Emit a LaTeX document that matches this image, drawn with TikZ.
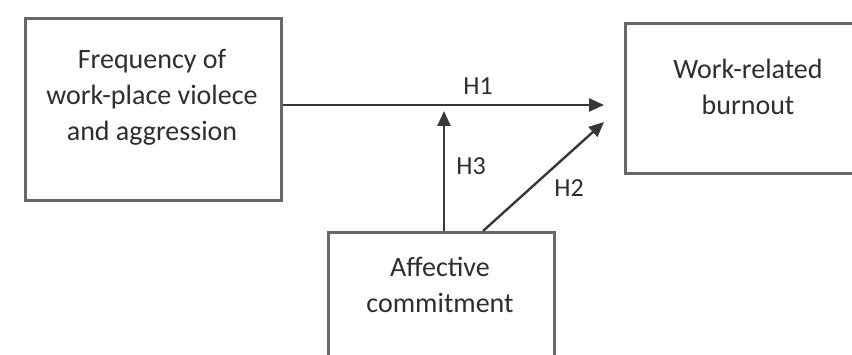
\documentclass[tikz,border=0pt]{standalone}
\usepackage{fontspec}
\setmainfont{Carlito}
\usetikzlibrary{arrows.meta}
\definecolor{boxline}{HTML}{686868}
\definecolor{arrline}{HTML}{383838}
\definecolor{txt}{HTML}{2E2E2E}
\begin{document}
\begin{tikzpicture}[x=1pt,y=-1pt,
  boxshape/.style={draw=boxline,line width=2.6pt,inner sep=0pt,anchor=north west},
  boxtext/.style={text=txt,font=\fontsize{28}{36}\selectfont,align=center,inner sep=0pt},
  hyp/.style={text=txt,font=\fontsize{26}{30}\selectfont,inner sep=0pt},
  conn/.style={draw=arrline,line width=2.4pt,-{Triangle[length=15pt,width=13pt]}}]
\useasboundingbox (0,0) rectangle (852,355);
\clip (0,0) rectangle (852,355);
\fill[white] (0,0) rectangle (852,355);
% boxes
\node[boxshape,minimum width=256pt,minimum height=182pt] (freq) at (24,17) {};
\node[boxtext] (freqt) at (152,97) {Frequency of\\work-place violece\\and aggression};
\node[boxshape,minimum width=248pt,minimum height=150pt] (burn) at (624,22) {};
\node[boxtext] (burnt) at (748,87) {Work-related\\burnout};
\node[boxshape,minimum width=226pt,minimum height=160pt] (aff) at (327,231) {};
\node[boxtext] (afft) at (440,285) {Affective\\commitment};
% connector ends
\coordinate (h1end) at (604,105);
\coordinate (h3end) at (444,111);
\coordinate (h2end) at (604,122);
\coordinate (h1start) at (freq.east |- h1end);
\coordinate (h3start) at (aff.north -| h3end);
\coordinate (h2start) at (483,231);
\draw[conn] (h1start) -- (h1end);
\draw[conn] (h3start) -- (h3end);
\draw[conn] (h2start) -- (h2end);
% labels
\node[hyp] (lh1) at (478,86) {H1};
\node[hyp] (lh3) at (471,166) {H3};
\node[hyp] (lh2) at (569,188) {H2};
\end{tikzpicture}
\end{document}
